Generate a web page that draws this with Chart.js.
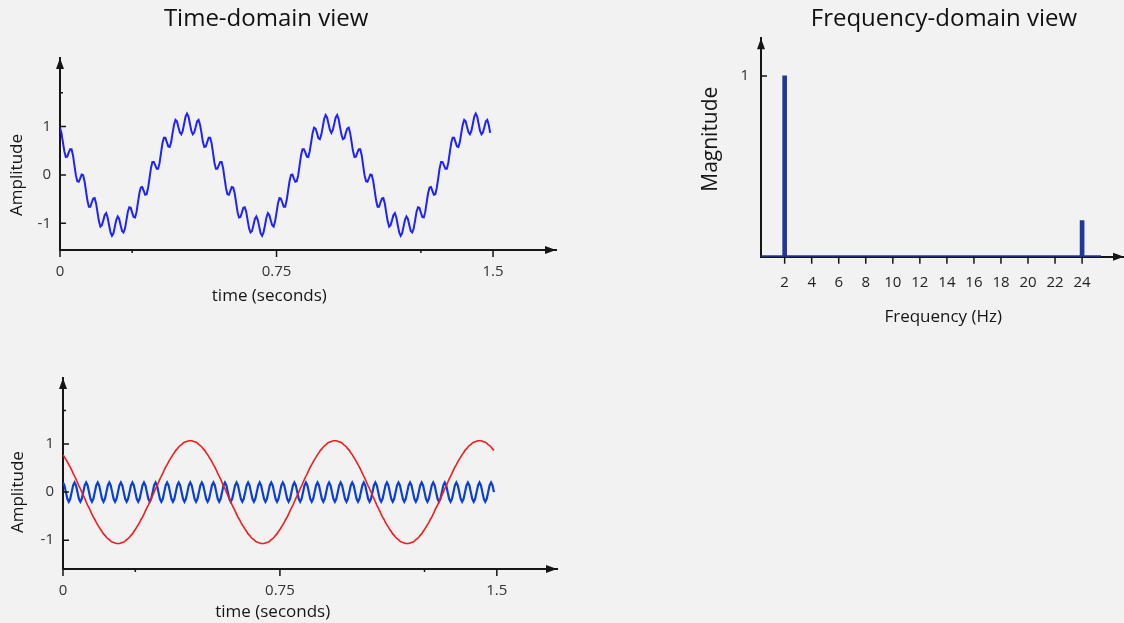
<!DOCTYPE html>
<html>
<head>
<meta charset="utf-8">
<title>Time and frequency domain</title>
<script src="https://cdn.jsdelivr.net/npm/chart.js@4.4.1/dist/chart.umd.min.js"></script>
<style>
  html, body { margin: 0; padding: 0; }
  body { width: 1124px; height: 623px; overflow: hidden; position: relative; background: #f2f2f2; }
  canvas { position: absolute; }
  #timeSum { left: -24px; top: 0; }
  #timeParts { left: -21px; top: 360px; }
  #spectrum { left: 680px; top: 0; }
</style>
</head>
<body>
<canvas id="timeSum" width="582" height="310"></canvas>
<canvas id="timeParts" width="580" height="263"></canvas>
<canvas id="spectrum" width="528" height="340"></canvas>
<script>
// sample instants in seconds, shared by every time-domain trace
const timeSec = [
  0, 0.005, 0.01, 0.015, 0.02, 0.025, 0.03, 0.035, 0.04, 0.045, 0.05, 0.055, 0.06, 0.065, 0.07, 0.075, 0.08, 0.085, 0.09, 0.095,
  0.1, 0.105, 0.11, 0.115, 0.12, 0.125, 0.13, 0.135, 0.14, 0.145, 0.15, 0.155, 0.16, 0.165, 0.17, 0.175, 0.18, 0.185, 0.19, 0.195,
  0.2, 0.205, 0.21, 0.215, 0.22, 0.225, 0.23, 0.235, 0.24, 0.245, 0.25, 0.255, 0.26, 0.265, 0.27, 0.275, 0.28, 0.285, 0.29, 0.295,
  0.3, 0.305, 0.31, 0.315, 0.32, 0.325, 0.33, 0.335, 0.34, 0.345, 0.35, 0.355, 0.36, 0.365, 0.37, 0.375, 0.38, 0.385, 0.39, 0.395,
  0.4, 0.405, 0.41, 0.415, 0.42, 0.425, 0.43, 0.435, 0.44, 0.445, 0.45, 0.455, 0.46, 0.465, 0.47, 0.475, 0.48, 0.485, 0.49, 0.495,
  0.5, 0.505, 0.51, 0.515, 0.52, 0.525, 0.53, 0.535, 0.54, 0.545, 0.55, 0.555, 0.56, 0.565, 0.57, 0.575, 0.58, 0.585, 0.59, 0.595,
  0.6, 0.605, 0.61, 0.615, 0.62, 0.625, 0.63, 0.635, 0.64, 0.645, 0.65, 0.655, 0.66, 0.665, 0.67, 0.675, 0.68, 0.685, 0.69, 0.695,
  0.7, 0.705, 0.71, 0.715, 0.72, 0.725, 0.73, 0.735, 0.74, 0.745, 0.75, 0.755, 0.76, 0.765, 0.77, 0.775, 0.78, 0.785, 0.79, 0.795,
  0.8, 0.805, 0.81, 0.815, 0.82, 0.825, 0.83, 0.835, 0.84, 0.845, 0.85, 0.855, 0.86, 0.865, 0.87, 0.875, 0.88, 0.885, 0.89, 0.895,
  0.9, 0.905, 0.91, 0.915, 0.92, 0.925, 0.93, 0.935, 0.94, 0.945, 0.95, 0.955, 0.96, 0.965, 0.97, 0.975, 0.98, 0.985, 0.99, 0.995,
  1, 1.005, 1.01, 1.015, 1.02, 1.025, 1.03, 1.035, 1.04, 1.045, 1.05, 1.055, 1.06, 1.065, 1.07, 1.075, 1.08, 1.085, 1.09, 1.095,
  1.1, 1.105, 1.11, 1.115, 1.12, 1.125, 1.13, 1.135, 1.14, 1.145, 1.15, 1.155, 1.16, 1.165, 1.17, 1.175, 1.18, 1.185, 1.19, 1.195,
  1.2, 1.205, 1.21, 1.215, 1.22, 1.225, 1.23, 1.235, 1.24, 1.245, 1.25, 1.255, 1.26, 1.265, 1.27, 1.275, 1.28, 1.285, 1.29, 1.295,
  1.3, 1.305, 1.31, 1.315, 1.32, 1.325, 1.33, 1.335, 1.34, 1.345, 1.35, 1.355, 1.36, 1.365, 1.37, 1.375, 1.38, 1.385, 1.39, 1.395,
  1.4, 1.405, 1.41, 1.415, 1.42, 1.425, 1.43, 1.435, 1.44, 1.445, 1.45, 1.455, 1.46, 1.465, 1.47, 1.475, 1.48, 1.485, 1.49
];

// slow 2 Hz component (red trace in the lower panel)
const lowTone = [
  0.78, 0.73, 0.68, 0.63, 0.57, 0.52, 0.46, 0.39, 0.33, 0.27, 0.2, 0.13, 0.07, 0,
  -0.07, -0.13, -0.2, -0.27, -0.33, -0.39, -0.46, -0.52, -0.57, -0.63, -0.68, -0.73, -0.78, -0.82, -0.87, -0.9, -0.94, -0.97, -0.99, -1.02, -1.04, -1.05, -1.06, -1.07, -1.07,
  -1.07, -1.06, -1.05, -1.04, -1.02, -0.99, -0.97, -0.94, -0.9, -0.87, -0.82, -0.78, -0.73, -0.68, -0.63, -0.57, -0.52, -0.46, -0.39, -0.33, -0.27, -0.2, -0.13, -0.07, 0,
  0.07, 0.13, 0.2, 0.27, 0.33, 0.39, 0.46, 0.52, 0.57, 0.63, 0.68, 0.73, 0.78, 0.82, 0.87, 0.9, 0.94, 0.97, 0.99, 1.02, 1.04, 1.05, 1.06, 1.07, 1.07,
  1.07, 1.06, 1.05, 1.04, 1.02, 0.99, 0.97, 0.94, 0.9, 0.87, 0.82,
  0.78, 0.73, 0.68, 0.63, 0.57, 0.52, 0.46, 0.39, 0.33, 0.27, 0.2, 0.13, 0.07, 0,
  -0.07, -0.13, -0.2, -0.27, -0.33, -0.39, -0.46, -0.52, -0.57, -0.63, -0.68, -0.73, -0.78, -0.82, -0.87, -0.9, -0.94, -0.97, -0.99, -1.02, -1.04, -1.05, -1.06, -1.07, -1.07,
  -1.07, -1.06, -1.05, -1.04, -1.02, -0.99, -0.97, -0.94, -0.9, -0.87, -0.82, -0.78, -0.73, -0.68, -0.63, -0.57, -0.52, -0.46, -0.39, -0.33, -0.27, -0.2, -0.13, -0.07, 0,
  0.07, 0.13, 0.2, 0.27, 0.33, 0.39, 0.46, 0.52, 0.57, 0.63, 0.68, 0.73, 0.78, 0.82, 0.87, 0.9, 0.94, 0.97, 0.99, 1.02, 1.04, 1.05, 1.06, 1.07, 1.07,
  1.07, 1.06, 1.05, 1.04, 1.02, 0.99, 0.97, 0.94, 0.9, 0.87, 0.82,
  0.78, 0.73, 0.68, 0.63, 0.57, 0.52, 0.46, 0.39, 0.33, 0.27, 0.2, 0.13, 0.07, 0,
  -0.07, -0.13, -0.2, -0.27, -0.33, -0.39, -0.46, -0.52, -0.57, -0.63, -0.68, -0.73, -0.78, -0.82, -0.87, -0.9, -0.94, -0.97, -0.99, -1.02, -1.04, -1.05, -1.06, -1.07, -1.07,
  -1.07, -1.06, -1.05, -1.04, -1.02, -0.99, -0.97, -0.94, -0.9, -0.87, -0.82, -0.78, -0.73, -0.68, -0.63, -0.57, -0.52, -0.46, -0.39, -0.33, -0.27, -0.2, -0.13, -0.07, 0,
  0.07, 0.13, 0.2, 0.27, 0.33, 0.39, 0.46, 0.52, 0.57, 0.63, 0.68, 0.73, 0.78, 0.82, 0.87, 0.9, 0.94, 0.97, 0.99, 1.02, 1.04, 1.05, 1.06, 1.07, 1.07,
  1.07, 1.06, 1.05, 1.04, 1.02, 0.99, 0.97, 0.94, 0.9, 0.87
];

// fast ripple (blue trace in the lower panel)
const highTone = [
  0.2, 0.14, 0, -0.14, -0.2, -0.14, 0, 0.14, 0.2, 0.14, 0, -0.14, -0.2, -0.14, 0, 0.14,
  0.2, 0.14, 0, -0.14, -0.2, -0.14, 0, 0.14, 0.2, 0.14, 0, -0.14, -0.2, -0.14, 0, 0.14,
  0.2, 0.14, 0, -0.14, -0.2, -0.14, 0, 0.14, 0.2, 0.14, 0, -0.14, -0.2, -0.14, 0, 0.14,
  0.2, 0.14, 0, -0.14, -0.2, -0.14, 0, 0.14, 0.2, 0.14, 0, -0.14, -0.2, -0.14, 0, 0.14,
  0.2, 0.14, 0, -0.14, -0.2, -0.14, 0, 0.14, 0.2, 0.14, 0, -0.14, -0.2, -0.14, 0, 0.14,
  0.2, 0.14, 0, -0.14, -0.2, -0.14, 0, 0.14, 0.2, 0.14, 0, -0.14, -0.2, -0.14, 0, 0.14,
  0.2, 0.14, 0, -0.14, -0.2, -0.14, 0, 0.14, 0.2, 0.14, 0, -0.14, -0.2, -0.14, 0, 0.14,
  0.2, 0.14, 0, -0.14, -0.2, -0.14, 0, 0.14, 0.2, 0.14, 0, -0.14, -0.2, -0.14, 0, 0.14,
  0.2, 0.14, 0, -0.14, -0.2, -0.14, 0, 0.14, 0.2, 0.14, 0, -0.14, -0.2, -0.14, 0, 0.14,
  0.2, 0.14, 0, -0.14, -0.2, -0.14, 0, 0.14, 0.2, 0.14, 0, -0.14, -0.2, -0.14, 0, 0.14,
  0.2, 0.14, 0, -0.14, -0.2, -0.14, 0, 0.14, 0.2, 0.14, 0, -0.14, -0.2, -0.14, 0, 0.14,
  0.2, 0.14, 0, -0.14, -0.2, -0.14, 0, 0.14, 0.2, 0.14, 0, -0.14, -0.2, -0.14, 0, 0.14,
  0.2, 0.14, 0, -0.14, -0.2, -0.14, 0, 0.14, 0.2, 0.14, 0, -0.14, -0.2, -0.14, 0, 0.14,
  0.2, 0.14, 0, -0.14, -0.2, -0.14, 0, 0.14, 0.2, 0.14, 0, -0.14, -0.2, -0.14, 0, 0.14,
  0.2, 0.14, 0, -0.14, -0.2, -0.14, 0, 0.14, 0.2, 0.14, 0, -0.14, -0.2, -0.14, 0, 0.14,
  0.2, 0.14, 0, -0.14, -0.2, -0.14, 0, 0.14, 0.2, 0.14, 0, -0.14, -0.2, -0.14, 0, 0.14,
  0.2, 0.14, 0, -0.14, -0.2, -0.14, 0, 0.14, 0.2, 0.14, 0, -0.14, -0.2, -0.14, 0, 0.14,
  0.2, 0.14, 0, -0.14, -0.2, -0.14, 0, 0.14, 0.2, 0.14, 0, -0.14, -0.2, -0.14, 0, 0.14,
  0.2, 0.14, 0, -0.14, -0.2, -0.14, 0, 0.14,
  0.2, 0.14, 0
];

const timeTicks = [0, 0.25, 0.75, 1.25, 1.5];
const timeTickLabels = ['0', '', '0.75', '', '1.5'];
const ampTicks = [-1, 0, 1, 1.7];
const ampTickLabels = ['-1', '0', '1', ''];

// spectrum
const freqHz = [2, 24];
const magnitude = [1, 0.2];
const freqSpan = [0, 25.4];
const freqTicks = [2, 4, 6, 8, 10, 12, 14, 16, 18, 20, 22, 24];
const magTicks = [1];

Chart.defaults.font.family = '"Open Sans", sans-serif';
Chart.defaults.font.size = 15;
Chart.defaults.color = '#333';
Chart.defaults.animation = false;

const INK = '#161616';
const NAVY = '#22379a';

// panel title, tick marks (x down, y inward), arrow heads and axis captions
const axisDecor = {
  id: 'axisDecor',
  afterDraw(chart, args, opts) {
    const { ctx, chartArea: a, scales: { x, y } } = chart;
    ctx.save();
    ctx.strokeStyle = INK;
    ctx.fillStyle = INK;
    ctx.lineWidth = 1.5;
    ctx.beginPath();
    x.ticks.forEach(t => {
      const px = x.getPixelForValue(t.value);
      ctx.moveTo(px, a.bottom);
      ctx.lineTo(px, a.bottom + (t.label ? 7 : 3));
    });
    y.ticks.forEach(t => {
      const py = y.getPixelForValue(t.value);
      ctx.moveTo(a.left, py);
      ctx.lineTo(a.left + (t.label ? 6 : 3), py);
    });
    ctx.stroke();

    ctx.beginPath();
    ctx.moveTo(a.left, a.top);
    ctx.lineTo(a.left - 4, a.top + 11);
    ctx.lineTo(a.left + 4, a.top + 11);
    ctx.closePath();
    ctx.moveTo(a.right, a.bottom);
    ctx.lineTo(a.right - 11, a.bottom - 4);
    ctx.lineTo(a.right - 11, a.bottom + 4);
    ctx.closePath();
    ctx.fill();

    ctx.textAlign = 'center';
    ctx.textBaseline = 'middle';
    if (opts.title) {
      ctx.fillStyle = '#111';
      ctx.font = '24px "Open Sans"';
      ctx.fillText(opts.title, x.getPixelForValue(opts.titleAt), opts.titleY);
      ctx.fillStyle = INK;
    }
    ctx.font = opts.xSize + 'px "Open Sans"';
    ctx.fillText(opts.xText, x.getPixelForValue(opts.xAt), a.bottom + opts.xGap);
    ctx.font = opts.ySize + 'px "Open Sans"';
    ctx.translate(a.left - opts.yGap, y.getPixelForValue(opts.yAt));
    ctx.rotate(-Math.PI / 2);
    ctx.fillText(opts.yText, 0, 0);
    ctx.restore();
  }
};

const fixedTicks = values => scale => { scale.ticks = values.map(value => ({ value })); };

function timeScales(yMin, yMax, xMax, xHeight) {
  return {
    x: {
      type: 'linear', min: 0, max: xMax, bounds: 'data',
      afterBuildTicks: fixedTicks(timeTicks),
      afterFit: s => { s.height = xHeight; },
      grid: { display: false, drawTicks: false },
      border: { color: INK, width: 2 },
      ticks: { autoSkip: false, maxRotation: 0, padding: 13, callback: (v, i) => timeTickLabels[i] }
    },
    y: {
      type: 'linear', min: yMin, max: yMax, bounds: 'data',
      afterBuildTicks: fixedTicks(ampTicks),
      afterFit: s => { s.width = 54; },
      grid: { display: false, drawTicks: false },
      border: { color: INK, width: 2 },
      ticks: { autoSkip: false, padding: 9, callback: (v, i) => ampTickLabels[i] }
    }
  };
}

const trace = ys => ys.map((y, i) => ({ x: timeSec[i], y }));

// upper panel: the sum of both components
const combined = lowTone.map((v, i) => Math.round((v + highTone[i]) * 100) / 100);

new Chart(document.getElementById('timeSum'), {
  type: 'line',
  data: {
    datasets: [{ data: trace(combined), borderColor: '#1f22ff', borderWidth: 2, pointRadius: 0, tension: 0 }]
  },
  options: {
    responsive: false,
    layout: { padding: { left: 30, right: 2, top: 58, bottom: 0 }, autoPadding: false },
    plugins: {
      legend: { display: false },
      tooltip: { enabled: false },
      axisDecor: { title: 'Time-domain view', titleAt: 0.714, titleY: 19.5,
                   xText: 'time (seconds)', xAt: 0.725, xGap: 46, xSize: 17,
                   yText: 'Amplitude', yAt: 0, yGap: 42.5, ySize: 17 }
    },
    scales: timeScales(-1.553, 2.42, 1.718, 60)
  },
  plugins: [axisDecor]
});

// lower panel: the two components drawn separately
new Chart(document.getElementById('timeParts'), {
  type: 'line',
  data: {
    datasets: [
      { data: trace(lowTone), borderColor: '#f21c1c', borderWidth: 1.6, pointRadius: 0, tension: 0 },
      { data: trace(highTone), borderColor: '#0a3fd4', borderWidth: 2.2, pointRadius: 0, tension: 0 }
    ]
  },
  options: {
    responsive: false,
    layout: { padding: { left: 30, right: 2, top: 17, bottom: 0 }, autoPadding: false },
    plugins: {
      legend: { display: false },
      tooltip: { enabled: false },
      axisDecor: { xText: 'time (seconds)', xAt: 0.725, xGap: 43, xSize: 17,
                   yText: 'Amplitude', yAt: 0, yGap: 44.5, ySize: 17 }
    },
    scales: timeScales(-1.6, 2.375, 1.708, 54)
  },
  plugins: [axisDecor]
});

// right panel: magnitude spectrum
new Chart(document.getElementById('spectrum'), {
  type: 'bar',
  data: {
    datasets: [
      { type: 'bar', data: freqHz.map((f, i) => ({ x: f, y: magnitude[i] })), backgroundColor: NAVY, barThickness: 4 },
      { type: 'line', data: freqSpan.map(f => ({ x: f, y: 0 })), borderColor: NAVY, borderWidth: 3, pointRadius: 0 }
    ]
  },
  options: {
    responsive: false,
    layout: { padding: { left: 20, right: 84, top: 38.3, bottom: 0 }, autoPadding: false },
    plugins: {
      legend: { display: false },
      tooltip: { enabled: false },
      axisDecor: { title: 'Frequency-domain view', titleAt: 13.78, titleY: 19.5,
                   xText: 'Frequency (Hz)', xAt: 13.73, xGap: 60, xSize: 17,
                   yText: 'Magnitude', yAt: 0.65, yGap: 49.7, ySize: 21 }
    },
    scales: {
      x: {
        type: 'linear', offset: false, min: 0.25, max: 27.1, bounds: 'data',
        afterBuildTicks: fixedTicks(freqTicks),
        afterFit: s => { s.height = 83.3; },
        grid: { display: false, drawTicks: false, offset: false },
        border: { color: INK, width: 2 },
        ticks: { autoSkip: false, maxRotation: 0, padding: 17, color: '#222' }
      },
      y: {
        type: 'linear', min: 0, max: 1.208, bounds: 'data',
        afterBuildTicks: fixedTicks(magTicks),
        afterFit: s => { s.width = 61; },
        grid: { display: false, drawTicks: false },
        border: { color: INK, width: 2 },
        ticks: { padding: 12 }
      }
    }
  },
  plugins: [axisDecor]
});
</script>
</body>
</html>
